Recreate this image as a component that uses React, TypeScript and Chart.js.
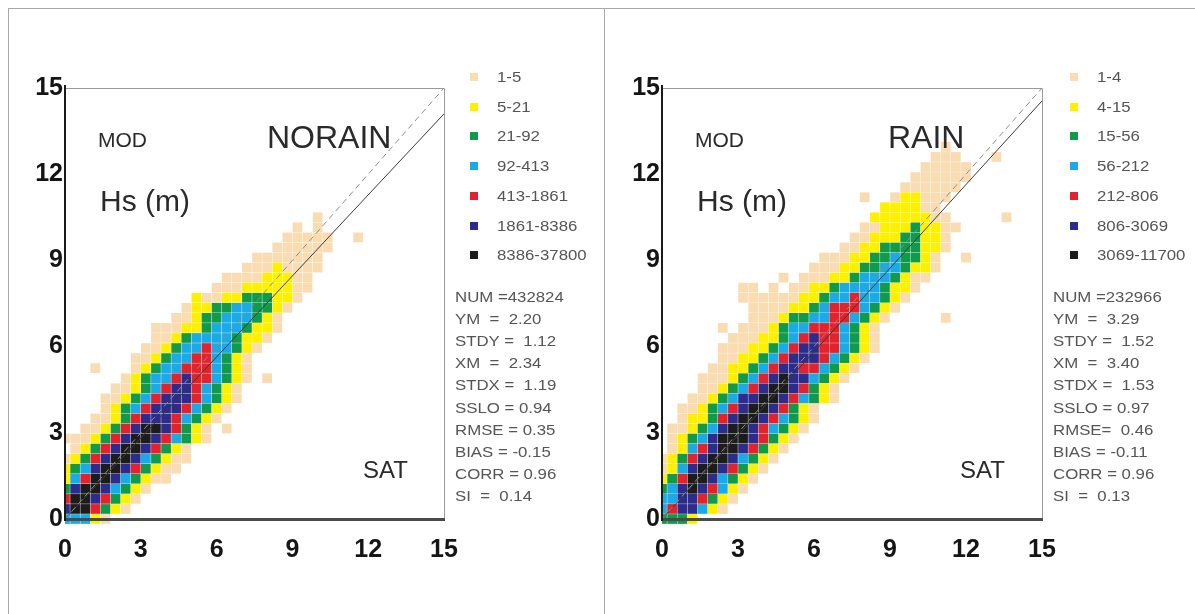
import React, { useEffect, useRef } from "react";
import { Chart, registerables } from "chart.js";
Chart.register(...registerables);

// ---------- data ----------
const AXIS_TICKS = [0, 3, 6, 9, 12, 15];
const BIN_X = 0.4; // SAT bin (m)
const BIN_Y = 0.35; // MOD bin (m)
const CLASS_COLORS = ["#f9dcb2", "#fff000", "#109a4c", "#1aaae6", "#e3222b", "#2b2c8c", "#1c1c1c"];

const NORAIN_LEVELS = ["1-5", "5-21", "21-92", "92-413", "413-1861", "1861-8386", "8386-37800"];
const RAIN_LEVELS = ["1-4", "4-15", "15-56", "56-212", "212-806", "806-3069", "3069-11700"];

const NORAIN_STATS = ["NUM =432824", "YM  =  2.20", "STDY =  1.12", "XM  =  2.34", "STDX =  1.19", "SSLO = 0.94", "RMSE = 0.35", "BIAS = -0.15", "CORR = 0.96", "SI  =  0.14"];
const RAIN_STATS = ["NUM =232966", "YM  =  3.29", "STDY =  1.52", "XM  =  3.40", "STDX =  1.53", "SSLO = 0.97", "RMSE=  0.46", "BIAS = -0.11", "CORR = 0.96", "SI  =  0.13"];

const NORAIN_SLOPE = 0.94;
const RAIN_SLOPE = 0.97;

// density classes per MOD bin row: [first SAT bin column, class codes (0 empty, 1..7)]
const NORAIN_ROWS: [number, string][] = [
  [0, "44421"],
  [0, "6775321"],
  [0, "57765321"],
  [0, "367764321"],
  [0, "24577643211"],
  [0, "234677653211"],
  [0, "1235677643211"],
  [1, "123567765321"],
  [0, "111235677654321"],
  [2, "112356776532101"],
  [3, "1123566654321"],
  [4, "1234566654321"],
  [4, "11234566654321"],
  [5, "1123456654321"],
  [6, "123445655432101"],
  [3, "1000123445554321"],
  [7, "112344554321"],
  [8, "112344544321"],
  [9, "112344443221"],
  [9, "1112234443221"],
  [11, "11233444321"],
  [12, "12233443321"],
  [13, "21122333221"],
  [15, "1112222211"],
  [16, "111122211"],
  [18, "11121111"],
  [19, "1111111"],
  [21, "111111"],
  [22, "11111001"],
  [23, "101"],
  [25, "1"],
];

const RAIN_ROWS: [number, string][] = [
  [0, "3332"],
  [0, "4566421"],
  [0, "44665321"],
  [0, "346765421"],
  [0, "2357764321"],
  [0, "12467765321"],
  [0, "123567764321"],
  [1, "124567765321"],
  [1, "1234677765321"],
  [1, "11234677654321"],
  [2, "12235677654321"],
  [2, "11234567765321"],
  [3, "112346677654321"],
  [4, "11234567765321"],
  [4, "111234567664321"],
  [5, "112234566554321"],
  [6, "112234566654321"],
  [6, "1112234566554321"],
  [7, "111223456554321"],
  [6, "1011123445554321"],
  [9, "11123344554321000001"],
  [9, "111122345554321"],
  [8, "11111122344544321"],
  [8, "110101122344443221"],
  [12, "101112234443211"],
  [15, "1112233443221"],
  [16, "111223343321001"],
  [18, "11223333221"],
  [19, "1122233221"],
  [20, "1122232211"],
  [21, "22222211000001"],
  [22, "222211"],
  [20, "100122111"],
  [24, "111111"],
  [25, "111111"],
  [26, "11111"],
  [27, "1110001"],
  [28, "1"],
];

// ---------- helpers ----------
const FONT = "'Liberation Sans', Arial, Helvetica, sans-serif";

function cellsByClass(rows: [number, string][]) {
  const out: { x: number; y: number }[][] = CLASS_COLORS.map(() => []);
  rows.forEach(([start, pat], r) => {
    for (let i = 0; i < pat.length; i++) {
      const k = Number(pat[i]);
      if (k > 0) out[k - 1].push({ x: (start + i) * BIN_X, y: r * BIN_Y });
    }
  });
  return out;
}

const framePlugin = {
  id: "frame",
  afterDatasetsDraw(chart: any) {
    const { ctx, chartArea: a } = chart;
    ctx.save();
    ctx.strokeStyle = "#9a9a9a";
    ctx.lineWidth = 1;
    ctx.beginPath();
    ctx.moveTo(a.left, a.top + 0.5);
    ctx.lineTo(a.right + 0.5, a.top + 0.5);
    ctx.lineTo(a.right + 0.5, a.bottom);
    ctx.stroke();
    // bottom axis
    ctx.strokeStyle = "#4a4a4a";
    ctx.lineWidth = 3;
    ctx.beginPath();
    ctx.moveTo(a.left, a.bottom + 0.5);
    ctx.lineTo(a.right + 1, a.bottom + 0.5);
    ctx.stroke();
    // left axis
    ctx.strokeStyle = "#1a1a1a";
    ctx.lineWidth = 2;
    ctx.beginPath();
    ctx.moveTo(a.left, a.top - 3);
    ctx.lineTo(a.left, a.bottom + 2);
    ctx.stroke();
    ctx.restore();
  },
};

type PanelProps = {
  left: number;
  width: number;
  plotLeft: number;
  plotRight: number;
  rows: [number, string][];
  slope: number;
  levels: string[];
  stats: string[];
  title: string;
  titleLeft: number;
  modLeft: number;
  hsLeft: number;
  satLeft: number;
  legendLeft: number;
  statsLeft: number;
};

const H = 614;
const PLOT_TOP = 88;
const PLOT_BOTTOM = 519;
const Y_AXIS_W = 45;
const X_AXIS_H = 40;

function Panel(p: PanelProps) {
  const ref = useRef<HTMLCanvasElement | null>(null);
  useEffect(() => {
    if (!ref.current) return;
    const plotW = p.plotRight - p.plotLeft;
    const cellPx = (BIN_X * plotW) / 15 - 0.4;
    const groups = cellsByClass(p.rows);
    const datasets: any[] = [
      {
        type: "line",
        data: [{ x: 0, y: 0 }, { x: 15, y: 15 }],
        borderColor: "#8c8c8c",
        borderWidth: 1,
        borderDash: [6, 4],
        pointRadius: 0,
        fill: false,
      },
      {
        type: "line",
        data: [{ x: 0, y: 0 }, { x: 15, y: 15 * p.slope }],
        borderColor: "#3a3a3a",
        borderWidth: 1,
        pointRadius: 0,
        fill: false,
      },
      ...groups
        .map((pts, k) => ({
          type: "scatter",
          data: pts,
          backgroundColor: CLASS_COLORS[k],
          borderColor: CLASS_COLORS[k],
          pointStyle: "rect",
          pointRadius: cellPx / Math.SQRT2,
          pointHoverRadius: cellPx / Math.SQRT2,
          pointBorderWidth: 0,
          clip: { left: 0, top: 0, right: 0, bottom: 6 },
        }))
        .reverse(),
    ];
    const tickFont = { family: FONT, size: 25, weight: "bold" as const };
    const chart = new Chart(ref.current, {
      type: "scatter",
      data: { datasets },
      options: {
        animation: false,
        responsive: false,
        events: [],
        layout: {
          padding: {
            left: p.plotLeft - Y_AXIS_W,
            right: p.width - p.plotRight,
            top: PLOT_TOP,
            bottom: H - PLOT_BOTTOM - X_AXIS_H,
          },
        },
        plugins: { legend: { display: false }, tooltip: { enabled: false } },
        scales: {
          x: {
            type: "linear",
            min: 0,
            max: 15,
            afterFit: (s: any) => {
              s.height = X_AXIS_H;
            },
            afterBuildTicks: (s: any) => {
              s.ticks = AXIS_TICKS.map((v) => ({ value: v }));
            },
            ticks: { font: tickFont, color: "#151515", padding: 16, maxRotation: 0 },
            grid: { display: false, drawTicks: false },
            border: { display: false },
          },
          y: {
            type: "linear",
            min: 0,
            max: 15,
            afterFit: (s: any) => {
              s.width = Y_AXIS_W;
            },
            afterBuildTicks: (s: any) => {
              s.ticks = AXIS_TICKS.map((v) => ({ value: v }));
            },
            ticks: { font: tickFont, color: "#151515", padding: 2 },
            grid: { display: false, drawTicks: false },
            border: { display: false },
          },
        },
      },
      plugins: [framePlugin],
    });
    return () => chart.destroy();
  }, []);

  const txt = (extra: React.CSSProperties): React.CSSProperties => ({
    position: "absolute",
    fontFamily: FONT,
    lineHeight: 1,
    whiteSpace: "pre",
    color: "#2a2a2a",
    ...extra,
  });

  return (
    <div
      style={{
        position: "absolute",
        left: p.left,
        top: 0,
        width: p.width,
        height: H,
        overflow: "hidden",
      }}
    >
      <canvas ref={ref} width={p.width} height={H} style={{ position: "absolute", left: 0, top: 0 }} />
      <div style={txt({ left: p.modLeft, top: 129, fontSize: 21 })}>MOD</div>
      <div style={txt({ left: p.titleLeft, top: 121, fontSize: 32 })}>{p.title}</div>
      <div style={txt({ left: p.hsLeft, top: 186, fontSize: 30 })}>Hs (m)</div>
      <div style={txt({ left: p.satLeft, top: 458, fontSize: 24 })}>SAT</div>
      {p.levels.map((lv, i) => (
        <div key={lv} style={{ position: "absolute", left: p.legendLeft, top: 77 + i * 29.7 - 4 }}>
          <div
            style={{
              position: "absolute",
              left: 0,
              top: 0,
              width: 8,
              height: 8,
              background: CLASS_COLORS[i],
            }}
          />
          <div
            style={txt({
              left: 27,
              top: -3,
              fontSize: 14,
              color: "#555",
              transform: "scaleX(1.2)",
              transformOrigin: "left top",
            })}
          >
            {lv}
          </div>
        </div>
      ))}
      {p.stats.map((s, i) => (
        <div
          key={s}
          style={txt({
            left: p.statsLeft,
            top: 290 + i * 22.1,
            fontSize: 14,
            color: "#555",
            transform: "scaleX(1.2)",
            transformOrigin: "left top",
          })}
        >
          {s}
        </div>
      ))}
    </div>
  );
}

export default function App() {
  return (
    <div
      style={{
        position: "fixed",
        left: 0,
        top: 0,
        width: 1195,
        height: 614,
        background: "#fff",
        overflow: "hidden",
      }}
    >
      <Panel
        left={0}
        width={604}
        plotLeft={65}
        plotRight={444}
        rows={NORAIN_ROWS}
        slope={NORAIN_SLOPE}
        levels={NORAIN_LEVELS}
        stats={NORAIN_STATS}
        title="NORAIN"
        titleLeft={267}
        modLeft={98}
        hsLeft={100}
        satLeft={363}
        legendLeft={470}
        statsLeft={455}
      />
      <Panel
        left={604}
        width={591}
        plotLeft={58}
        plotRight={438}
        rows={RAIN_ROWS}
        slope={RAIN_SLOPE}
        levels={RAIN_LEVELS}
        stats={RAIN_STATS}
        title="RAIN"
        titleLeft={284}
        modLeft={91}
        hsLeft={93}
        satLeft={356}
        legendLeft={466}
        statsLeft={449}
      />
      <div style={{ position: "absolute", left: 8, top: 8, width: 1200, height: 1, background: "#a8a8a8" }} />
      <div style={{ position: "absolute", left: 8, top: 8, width: 1, height: 620, background: "#a8a8a8" }} />
      <div style={{ position: "absolute", left: 604, top: 8, width: 1, height: 620, background: "#a8a8a8" }} />
    </div>
  );
}
